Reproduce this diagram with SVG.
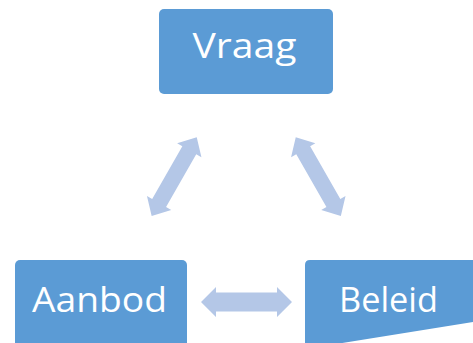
<svg xmlns="http://www.w3.org/2000/svg" width="473" height="343" viewBox="0 0 473 343">
  <style>
    .box { fill: #5B9BD5; }
    .lbl { fill: #FFFFFF; font-family: "Open Sans", "Noto Sans", "Liberation Sans", sans-serif; font-size: 34px; text-anchor: middle; }
    .arr { fill: #B4C7E7; }
  </style>
  <defs>
    <path id="dArrow" d="M-45.35,0 L-30.35,-14 L-30.35,-8 L30.35,-8 L30.35,-14 L45.35,0 L30.35,14 L30.35,8 L-30.35,8 L-30.35,14 Z"/>
    <path id="hArrow" d="M-45.5,0 L-30.5,-15 L-30.5,-9.5 L30.5,-9.5 L30.5,-15 L45.5,0 L30.5,15 L30.5,9.5 L-30.5,9.5 L-30.5,15 Z"/>
  </defs>
  <rect width="473" height="343" fill="#FFFFFF"/>
  <g id="connectors">
    <use href="#dArrow" class="arr" transform="translate(174.2,176.65) rotate(-60.2)"/>
    <use href="#dArrow" class="arr" transform="translate(318.3,176.65) rotate(60.2)"/>
    <use href="#hArrow" class="arr" transform="translate(246.5,302)"/>
  </g>
  <g id="node-vraag">
    <rect class="box" x="159" y="9" width="174" height="85" rx="5" ry="5"/>
    <text class="lbl" x="244.5" y="58.3" textLength="104" lengthAdjust="spacingAndGlyphs">Vraag</text>
  </g>
  <g id="node-aanbod">
    <rect class="box" x="15" y="260" width="172" height="100" rx="5" ry="5"/>
    <text class="lbl" x="99.5" y="312.3" textLength="135" lengthAdjust="spacingAndGlyphs">Aanbod</text>
  </g>
  <g id="node-beleid">
    <path class="box" d="M305,349 V265 Q305,260 310,260 H473 V322 Z"/>
    <text class="lbl" x="388.5" y="312" textLength="99" lengthAdjust="spacingAndGlyphs">Beleid</text>
  </g>
</svg>
